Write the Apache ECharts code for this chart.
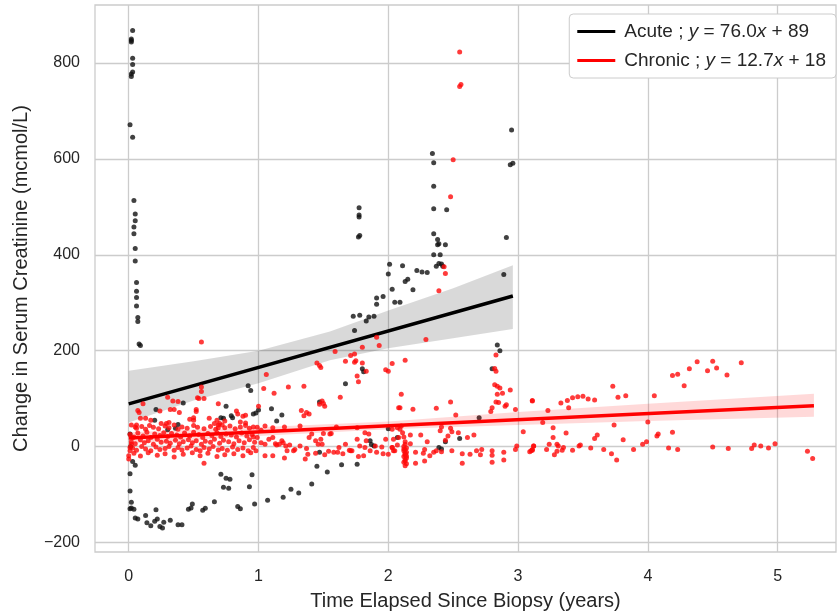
<!DOCTYPE html>
<html>
<head>
<meta charset="utf-8">
<script src="https://cdn.jsdelivr.net/npm/echarts@6/dist/echarts.min.js"></script>
<style>html,body{margin:0;padding:0;background:#fff}#c{width:838px;height:616px}</style>
</head>
<body>
<div id="c"></div>
<script>
// ---- tick labels ----
const xTicks = [0, 1, 2, 3, 4, 5];
const yTicks = [-200, 0, 200, 400, 600, 800];

// ---- Acute scatter (years, change) ----
const acuteX = [0.03,0.02,0.02,0.02,0.03,0.03,0.03,0.02,0.02,0.01,0.03,0.04,0.05,0.05,0.04,0.04,0.05,0.05,0.06,0.06,0.06,0.06,0.07,0.07,0.08,0.09,
0.42,0.21,0.20,0.38,0.30,0.36,0.01,0.92,0.94,0.75,0.71,0.73,0.79,0.80,1.00,0.98,0.96,0.015,0.03,0.05,0.01,0.01,0.02,0.01,0.02,0.04,0.05,0.07,0.13,0.21,0.14,0.17,0.20,0.22,0.24,0.26,0.27,0.32,0.38,0.41,0.46,0.49,0.48,0.57,0.59,0.66,0.71,0.75,0.78,0.73,0.77,0.84,0.86,0.93,0.95,0.97,
1.80,1.81,1.67,1.47,1.10,1.18,1.14,2.00,2.07,1.86,1.89,1.87,1.47,1.53,1.45,1.64,1.76,1.41,1.31,1.25,1.19,1.07,
1.775,1.775,1.775,1.77,1.78,2.34,2.35,2.35,2.35,2.45,2.35,2.38,2.38,2.39,2.44,2.35,2.40,2.39,2.41,2.37,2.42,2.94,2.96,2.95,2.91,2.89,2.01,2.11,2.00,2.22,2.26,2.30,2.15,2.13,2.19,2.03,1.91,1.96,1.91,2.05,2.09,1.73,1.78,1.85,1.89,1.83,1.74,2.84,2.86,2.80,2.70,2.44,2.55,2.39,2.41];
const acuteY = [868,850,847,844,810,797,781,777,772,671,645,513,485,471,458,444,413,387,342,324,311,293,269,261,214,211,
91,77,55,46,35,38,26,127,117,84,60,59,64,60,76,70,68,0,-31,-39,-57,-93,-116,-130,-128,-131,-149,-151,-144,-132,-159,-165,-156,-151,-167,-170,-158,-154,-163,-163,-131,-120,-128,-133,-129,-115,-58,-66,-68,-85,-87,-125,-130,-84,-59,-120,
162,156,131,93,79,66,53,37,19,12,1,4,-12,-53,-41,-38,-37,-78,-97,-89,-106,-112,
498,483,479,437,440,611,592,543,496,494,444,432,421,423,421,400,400,382,381,376,376,588,591,660,436,359,380,377,360,367,364,363,349,344,327,328,310,313,297,301,301,272,274,270,272,262,242,212,200,162,60,10,17,-2,-5];

// ---- Chronic scatter ----
const chronicX = [0.00,0.00,0.01,0.01,0.02,0.03,0.05,0.06,
0.56,0.56,0.56,0.53,0.54,0.58,0.30,0.34,0.38,0.32,0.35,0.39,0.07,0.08,0.11,0.09,0.13,0.17,0.24,0.25,0.31,0.29,0.52,0.52,0.47,0.50,0.50,0.69,0.83,0.84,0.88,0.90,0.86,0.90,0.62,0.68,0.66,0.70,0.74,0.72,0.69,0.58,
0.02,0.06,0.10,0.13,0.16,0.19,0.23,0.28,0.31,0.35,0.38,0.41,0.45,0.50,0.53,0.58,0.63,0.67,0.69,0.74,0.78,0.82,0.86,0.90,0.93,0.99,
0.01,0.04,0.07,0.11,0.14,0.17,0.20,0.24,0.27,0.30,0.33,0.37,0.40,0.43,0.47,0.50,0.54,0.57,0.61,0.64,0.68,0.71,0.75,0.79,0.83,0.87,0.91,0.95,
0.02,0.05,0.09,0.12,0.15,0.19,0.22,0.25,0.29,0.32,0.36,0.39,0.42,0.46,0.49,0.52,0.56,0.59,0.63,0.66,0.70,0.73,0.77,0.81,0.85,0.89,0.93,0.97,
0.03,0.06,0.10,0.13,0.17,0.21,0.24,0.28,0.31,0.35,0.38,0.41,0.45,0.48,0.52,0.55,0.58,0.62,0.65,0.69,0.72,0.76,0.80,0.84,0.88,0.92,0.96,
0.04,0.09,0.15,0.22,0.28,0.35,0.42,0.49,0.55,0.61,0.68,0.74,0.81,0.88,0.94,
1.06,1.04,1.12,1.23,1.35,1.00,1.33,1.35,1.39,1.45,1.47,1.48,1.49,1.50,1.51,1.59,1.67,1.71,1.74,1.74,1.75,1.80,1.83,1.76,1.77,1.80,1.93,1.63,1.98,2.00,2.03,2.08,1.91,1.37,1.47,
0.96,0.99,1.02,1.05,1.08,1.11,1.13,1.14,1.16,1.18,1.19,1.21,1.24,1.27,1.28,1.32,1.37,1.39,1.41,1.44,1.46,1.48,1.49,1.50,1.55,1.58,1.62,1.67,1.71,1.76,1.78,1.82,1.83,1.85,1.90,1.91,1.95,1.98,2.00,2.03,2.04,0.98,1.05,1.11,1.20,1.22,1.36,1.38,1.44,1.51,1.61,1.65,1.72,1.77,1.81,0.96,1.02,1.05,1.11,1.20,1.32,1.56,1.60,1.76,1.82,2.07,1.54,1.70,1.86,1.96,
2.29,2.13,2.83,2.82,2.83,2.82,2.84,2.86,2.88,2.94,2.84,2.83,2.85,2.80,2.79,2.90,2.91,2.98,3.11,2.10,2.48,2.37,2.19,2.09,2.52,2.50,2.48,2.55,2.55,2.56,2.43,2.44,2.39,
2.03,2.10,2.09,2.11,2.04,2.08,2.12,2.17,2.25,2.30,2.40,2.41,2.48,2.49,2.46,2.44,2.54,2.61,2.66,2.57,2.63,2.68,2.72,2.71,2.80,2.80,2.89,2.98,2.99,3.04,3.12,3.11,3.09,2.28,2.27,2.21,2.05,2.03,2.07,2.17,2.35,2.37,2.41,2.49,2.32,2.28,2.57,2.80,2.89,2.21,
2.13,2.13,2.12,2.14,2.13,2.12,2.14,2.13,2.13,2.12,2.14,2.13,2.13,2.12,2.14,2.13,2.12,2.14,2.13,
3.11,3.23,3.19,3.27,3.33,3.37,3.38,3.39,3.42,3.46,3.50,3.54,3.59,3.73,3.77,3.83,3.59,3.61,3.74,3.81,4.05,4.00,4.19,4.23,4.28,4.32,4.38,4.46,4.50,4.53,4.61,4.72,4.19,4.07,4.08,
3.27,3.24,3.30,3.31,3.34,3.35,3.28,3.30,3.10,3.11,3.12,3.22,3.42,3.47,3.48,3.56,3.66,3.72,3.76,3.89,3.96,3.99,4.16,4.23,4.50,4.62,4.80,4.82,4.87,4.93,4.98,5.23,5.27];
const chronicY = [-26,-19,-9,-2,5,19,41,45,
218,124,115,102,100,100,103,95,94,77,77,71,75,71,89,59,59,55,74,48,50,48,77,73,57,60,55,89,74,68,63,65,51,49,59,55,48,48,53,45,39,-35,
45,38,42,36,44,40,37,43,39,45,36,41,38,44,40,37,42,36,45,39,43,37,41,44,38,40,
25,20,28,22,30,19,26,23,29,21,27,24,20,28,22,30,25,19,27,23,29,21,26,24,20,28,22,25,
10,6,14,8,12,5,15,9,11,7,13,6,10,14,8,12,5,11,9,15,7,13,10,6,12,8,14,9,
-3,-8,0,-5,-9,-1,-6,-4,0,-8,-2,-7,-3,1,-6,-9,-2,-5,0,-7,-4,-8,-1,-6,-3,-9,-2,
-14,-20,-13,-18,-15,-22,-16,-13,-19,-14,-21,-17,-15,-19,-13,
150,121,111,124,126,84,75,64,68,174,169,165,95,90,84,198,178,190,193,176,179,174,157,147,135,207,211,103,160,157,173,81,228,71,88,
20,19,8,5,15,19,6,3,5,12,8,1,3,-9,-6,1,-4,19,26,12,5,15,5,27,26,-12,-2,5,-9,15,1,-2,12,26,1,-12,-1,15,-16,-2,-9,-9,-19,-19,-24,-9,-26,-16,-14,-17,-12,-15,-9,-21,-19,41,34,43,39,41,43,27,41,39,29,39,-10,-8,-9,-15,
223,180,191,163,157,129,126,122,111,118,109,93,92,81,73,84,87,77,95,109,93,80,78,81,66,598,521,823,751,755,375,361,325,
36,43,36,29,15,19,20,24,24,10,33,41,38,31,22,13,29,19,24,-15,-16,-9,-6,-17,-9,-18,-12,-6,1,31,1,-8,-11,-6,-14,-12,-9,-2,3,6,-12,-9,-11,-9,-19,-30,-35,-33,-28,-35,
10,5,0,-3,-6,-9,-12,-15,-18,-21,-24,-27,-30,-33,-36,-40,-5,-20,-14,
96,75,50,39,91,28,96,81,102,104,105,99,97,126,103,106,17,24,45,14,106,51,148,151,127,162,177,158,178,164,149,175,30,22,26,
19,5,5,1,-8,-2,-17,-10,-9,-6,1,-6,-8,1,3,-3,-6,-15,-28,-6,5,10,-3,-6,-1,-4,-4,3,1,-3,6,-10,-25];

// ---- regression lines (from legend equations, read endpoints) ----
const acuteFitX = [0.0, 2.96];
const acuteFitY = [89, 314];
const chronicFitX = [0.0, 5.28];
const chronicFitY = [18, 85];

// ---- confidence bands ----
const acuteBandX  = [0.0, 0.5, 1.0, 1.55, 2.0, 2.5, 2.96];
const acuteBandLo = [50, 96, 132, 180, 205, 226, 245];
const acuteBandHi = [158, 178, 200, 240, 284, 330, 378];
const chronicBandX  = [0.0, 1.0, 2.0, 3.0, 4.0, 5.28];
const chronicBandLo = [6, 22, 36, 45, 53, 62];
const chronicBandHi = [30, 40, 52, 72, 89, 110];

const legendNames = {
  'Acute': 'Acute ; {i|y} = 76.0{i|x} + 89',
  'Chronic': 'Chronic ; {i|y} = 12.7{i|x} + 18'
};

function zip(a, b) { return a.map((v, i) => [v, b[i]]); }
function bandSeries(name, xs, lo, hi, color) {
  const data = xs.map((x, i) => [x, lo[i], hi[i]]);
  return {
    type: 'custom', name: name, silent: true, z: 3,
    data: data,
    renderItem: function (params, api) {
      if (params.dataIndex !== 0) return;
      const top = data.map(d => api.coord([d[0], d[2]]));
      const bot = data.map(d => api.coord([d[0], d[1]])).reverse();
      return { type: 'polygon', shape: { points: top.concat(bot) }, style: { fill: color } };
    },
    encode: { x: 0, y: [1, 2] }
  };
}
const minus = v => String(v).replace('-', '\u2212');

const chart = echarts.init(document.getElementById('c'), null, { renderer: 'canvas' });
chart.setOption({
  animation: false,
  backgroundColor: '#ffffff',
  textStyle: { fontFamily: 'Liberation Sans, Arial, sans-serif' },
  grid: { left: 95, right: 2, top: 5, bottom: 61, show: true, borderColor: '#cccccc', borderWidth: 1.3, backgroundColor: '#fff' },
  xAxis: {
    type: 'value', min: -0.26, max: 5.45,
    name: 'Time Elapsed Since Biopsy (years)', nameLocation: 'middle', nameGap: 39,
    nameTextStyle: { fontSize: 20, color: '#262626' },
    axisLine: { show: false },
    axisTick: { show: false, customValues: xTicks },
    axisLabel: { customValues: xTicks, fontSize: 16, color: '#262626', margin: 17, formatter: minus },
    splitLine: { show: true, lineStyle: { color: '#cccccc', width: 1.3 } }
  },
  yAxis: {
    type: 'value', min: -220, max: 921,
    name: 'Change in Serum Creatinine (mcmol/L)', nameLocation: 'middle', nameGap: 64,
    nameTextStyle: { fontSize: 20, color: '#262626' },
    axisLine: { show: false },
    axisTick: { show: false, customValues: yTicks },
    axisLabel: { customValues: yTicks, fontSize: 16, color: '#262626', margin: 15, formatter: minus },
    splitLine: { show: true, lineStyle: { color: '#cccccc', width: 1.3 } }
  },
  legend: {
    data: ['Acute', 'Chronic'], orient: 'vertical', right: 2, top: 14,
    backgroundColor: '#fff', borderColor: '#cccccc', borderWidth: 1, borderRadius: 4,
    padding: [8, 10, 8, 8], itemGap: 10, itemWidth: 38, itemHeight: 3, icon: 'rect',
    textStyle: { fontSize: 19, color: '#262626', padding: [0, 0, 0, 4], rich: { i: { fontStyle: 'italic', fontSize: 19, color: '#262626' } } },
    formatter: n => legendNames[n]
  },
  series: [
    { type: 'scatter', name: 'AcutePts', data: zip(acuteX, acuteY), symbolSize: 5, itemStyle: { color: '#111111' }, z: 2, silent: true },
    bandSeries('AcuteBand', acuteBandX, acuteBandLo, acuteBandHi, 'rgba(0,0,0,0.15)'),
    { type: 'line', name: 'Acute', data: zip(acuteFitX, acuteFitY), showSymbol: false, color: '#000000', lineStyle: { width: 3.5, color: '#000000' }, z: 4 },
    { type: 'scatter', name: 'ChronicPts', data: zip(chronicX, chronicY), symbolSize: 5, itemStyle: { color: '#ff0a0a' }, z: 5, silent: true },
    Object.assign(bandSeries('ChronicBand', chronicBandX, chronicBandLo, chronicBandHi, 'rgba(255,0,0,0.15)'), { z: 6 }),
    { type: 'line', name: 'Chronic', data: zip(chronicFitX, chronicFitY), showSymbol: false, color: '#ff0000', lineStyle: { width: 3.5, color: '#ff0000' }, z: 7 }
  ]
});
</script>
</body>
</html>
